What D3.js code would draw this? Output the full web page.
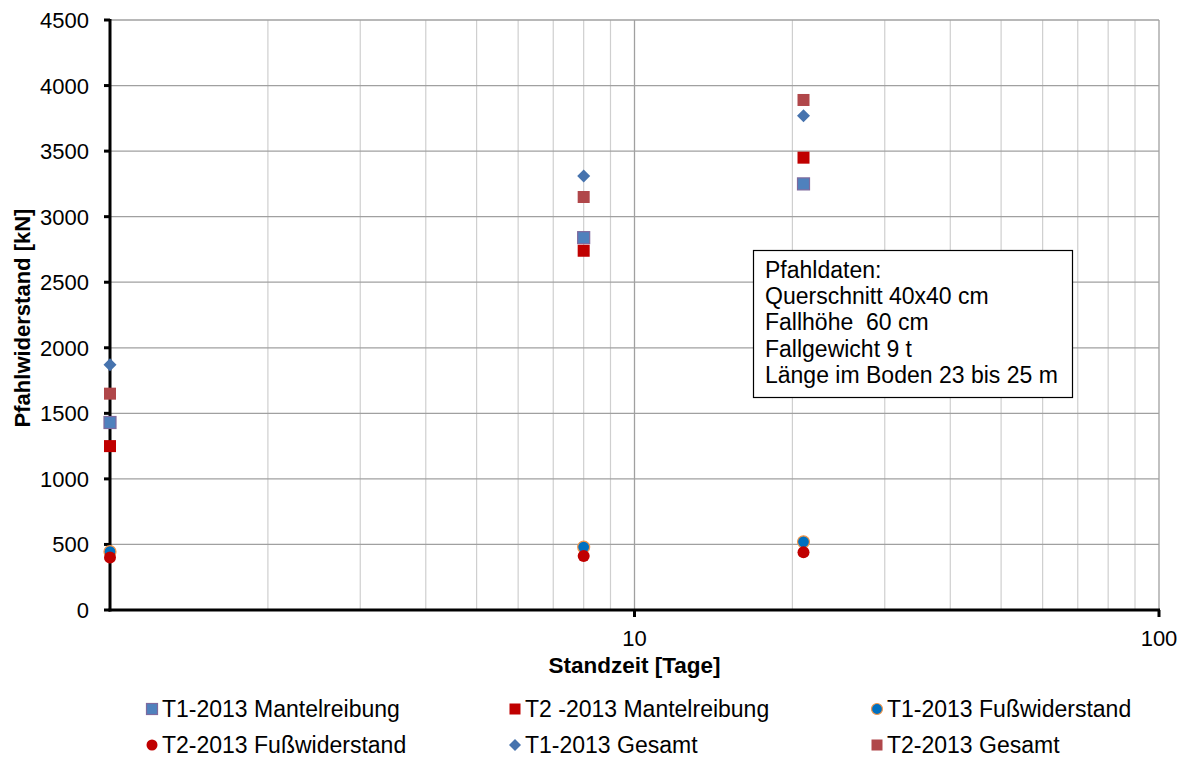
<!DOCTYPE html>
<html>
<head>
<meta charset="utf-8">
<script src="https://cdn.jsdelivr.net/npm/d3@7"></script>
<style>
  body { margin: 0; background: #fff; }
  text { font-family: "Liberation Sans", Arial, sans-serif; }
</style>
</head>
<body>
<script>
// Data
const days = [1, 8, 21];
const t1Mantel = [1430, 2840, 3250];
const t2Mantel = [1250, 2740, 3450];
const t1Fuss = [445, 480, 520];
const t2Fuss = [400, 412, 440];
const t1Gesamt = [1870, 3310, 3770];
const t2Gesamt = [1650, 3150, 3890];
const yTicks = [0, 500, 1000, 1500, 2000, 2500, 3000, 3500, 4000, 4500];
const xTicks = [10, 100];
const boxLines = ["Pfahldaten:", "Querschnitt 40x40 cm", "Fallhöhe  60 cm", "Fallgewicht 9 t", "Länge im Boden 23 bis 25 m"];

const series = [
  { name: "T1-2013 Mantelreibung", values: t1Mantel, shape: "square", fill: "#4F81BD", stroke: "#7F6A9E" },
  { name: "T2 -2013 Mantelreibung", values: t2Mantel, shape: "square", fill: "#C00000", stroke: "none" },
  { name: "T1-2013 Fußwiderstand", values: t1Fuss, shape: "circle", fill: "#0070C0", stroke: "#F79646" },
  { name: "T2-2013 Fußwiderstand", values: t2Fuss, shape: "circle", fill: "#C00000", stroke: "none" },
  { name: "T1-2013 Gesamt", values: t1Gesamt, shape: "diamond", fill: "#4673AE", stroke: "none" },
  { name: "T2-2013 Gesamt", values: t2Gesamt, shape: "square", fill: "#B0474A", stroke: "none" }
];

const W = 1185, H = 758;
const LEFT = 110, RIGHT = 1159, TOP = 20, BOTTOM = 610;

const svg = d3.select("body").append("svg")
  .attr("width", W)
  .attr("height", H);

const x = d3.scaleLog().domain([1, 100]).range([LEFT, RIGHT]);
const y = d3.scaleLinear().domain([0, 4500]).range([BOTTOM, TOP]);

// Minor vertical grid
const minor = [];
for (let d = 1; d <= 10; d *= 10) {
  for (let k = 2; k <= 9; k++) minor.push(k * d);
}
svg.append("g").selectAll("line").data(minor).enter().append("line")
  .attr("x1", d => x(d)).attr("x2", d => x(d))
  .attr("y1", TOP).attr("y2", BOTTOM)
  .attr("stroke", "#cfcfcf").attr("stroke-width", 1.2);

// Major vertical grid
svg.append("g").selectAll("line").data(xTicks).enter().append("line")
  .attr("x1", d => x(d)).attr("x2", d => x(d))
  .attr("y1", TOP).attr("y2", BOTTOM)
  .attr("stroke", "#a0a0a0").attr("stroke-width", 1.3);

// Horizontal grid
svg.append("g").selectAll("line").data(yTicks.slice(1)).enter().append("line")
  .attr("x1", LEFT).attr("x2", RIGHT)
  .attr("y1", d => y(d)).attr("y2", d => y(d))
  .attr("stroke", "#a0a0a0").attr("stroke-width", 1.3);

// Axes
svg.append("line").attr("x1", LEFT).attr("x2", LEFT).attr("y1", TOP - 1).attr("y2", BOTTOM + 1.5)
  .attr("stroke", "#000").attr("stroke-width", 3);
svg.append("line").attr("x1", LEFT - 1.5).attr("x2", RIGHT + 1).attr("y1", BOTTOM).attr("y2", BOTTOM)
  .attr("stroke", "#000").attr("stroke-width", 3);

// Y ticks and labels
const yt = svg.append("g").selectAll("g").data(yTicks).enter().append("g");
yt.append("line")
  .attr("x1", LEFT - 6).attr("x2", LEFT)
  .attr("y1", d => y(d)).attr("y2", d => y(d))
  .attr("stroke", "#000").attr("stroke-width", 3);
yt.append("text")
  .attr("x", LEFT - 21).attr("y", d => y(d) + 8)
  .attr("text-anchor", "end")
  .attr("font-size", 22)
  .text(d => d);

// X ticks and labels
const xt = svg.append("g").selectAll("g").data(xTicks).enter().append("g");
xt.append("line")
  .attr("x1", d => x(d)).attr("x2", d => x(d))
  .attr("y1", BOTTOM).attr("y2", BOTTOM + 7)
  .attr("stroke", "#000").attr("stroke-width", 3);
xt.append("text")
  .attr("x", d => x(d)).attr("y", BOTTOM + 36)
  .attr("text-anchor", "middle")
  .attr("font-size", 22)
  .text(d => d);

// Axis titles
svg.append("text")
  .attr("x", (LEFT + RIGHT) / 2).attr("y", 673)
  .attr("text-anchor", "middle")
  .attr("font-size", 22.5).attr("font-weight", "bold")
  .text("Standzeit [Tage]");
svg.append("text")
  .attr("transform", "translate(30," + ((TOP + BOTTOM) / 2 + 3) + ") rotate(-90)")
  .attr("text-anchor", "middle")
  .attr("font-size", 22).attr("font-weight", "bold")
  .text("Pfahlwiderstand [kN]");

// Marker drawing helper
function drawMarker(g, shape, cx, cy, s) {
  if (shape === "square") {
    return g.append("rect").attr("x", cx - s / 2).attr("y", cy - s / 2).attr("width", s).attr("height", s);
  } else if (shape === "circle") {
    return g.append("circle").attr("cx", cx).attr("cy", cy).attr("r", s / 2);
  }
  const r = s / 2 + 0.5;
  return g.append("path").attr("d", `M${cx},${cy - r}L${cx + r},${cy}L${cx},${cy + r}L${cx - r},${cy}Z`);
}

// Points
const pts = svg.append("g");
series.forEach(s => {
  s.values.forEach((v, i) => {
    drawMarker(pts, s.shape, x(days[i]), y(v), 12)
      .attr("fill", s.fill)
      .attr("stroke", s.stroke)
      .attr("stroke-width", s.stroke === "none" ? 0 : 1.2);
  });
});

// Annotation box
const box = svg.append("g");
box.append("rect")
  .attr("x", 753.5).attr("y", 250.5).attr("width", 319).attr("height", 147)
  .attr("fill", "#fff").attr("stroke", "#000").attr("stroke-width", 1.2);
box.selectAll("text").data(boxLines).enter().append("text")
  .attr("x", 765).attr("y", (d, i) => 278 + i * 26.2)
  .attr("font-size", 23)
  .attr("xml:space", "preserve")
  .style("white-space", "pre")
  .text(d => d);

// Legend
const legX = [152, 515, 877];
const legY = [709, 745];
const leg = svg.append("g");
series.forEach((s, i) => {
  const lx = legX[i % 3], ly = legY[Math.floor(i / 3)];
  drawMarker(leg, s.shape, lx, ly, 11)
    .attr("fill", s.fill)
    .attr("stroke", s.stroke)
    .attr("stroke-width", s.stroke === "none" ? 0 : 1.2);
  leg.append("text")
    .attr("x", lx + 10).attr("y", ly + 8)
    .attr("font-size", 23)
    .text(s.name);
});
</script>
</body>
</html>
